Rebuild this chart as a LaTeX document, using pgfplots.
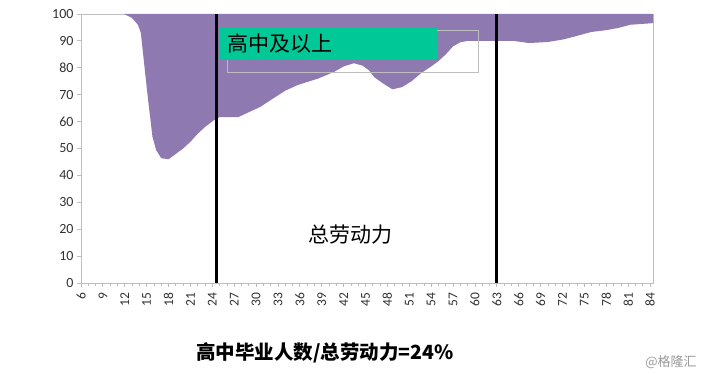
\documentclass[border=0pt]{standalone}
\usepackage{fontspec}
\setmainfont{Carlito}
\newfontfamily\cjk{Noto Sans CJK SC}
\usepackage{pgfplots}
\pgfplotsset{compat=1.18}
\definecolor{areapurple}{RGB}{142,122,176}
\definecolor{boxgreen}{RGB}{0,200,150}
\definecolor{axgray}{RGB}{190,190,190}
\definecolor{lblgray}{RGB}{50,50,50}
\begin{document}
\begin{tikzpicture}
\path[use as bounding box] (0pt,0pt) rectangle (705pt,374pt);
\begin{axis}[
  at={(81pt,91pt)}, anchor=south west,
  scale only axis, width=572pt, height=269pt,
  xmin=6, xmax=84.4, ymin=0, ymax=100,
  xtick={6,9,...,84}, ytick={0,10,...,100},
  minor x tick num=2,
  tick pos=left, tick align=outside,
  major tick length=4pt, minor tick length=3pt,
  tick style={axgray, line width=0.8pt},
  axis line style={axgray, line width=0.9pt},
  /pgf/number format/assume math mode=true,
  xticklabel style={rotate=90, anchor=east, xshift=-2pt, font=\fontsize{13.5}{13.5}\selectfont, text=lblgray},
  yticklabel style={font=\fontsize{14}{14}\selectfont, text=lblgray},
  clip=false,
]
\addplot[fill=areapurple, draw=none] coordinates {
(11.9,100) (13,98.5) (13.8,96) (14.2,93) (14.7,80.4) (15.2,68) (15.8,54.3) (16.3,49.4)
(17,46.4) (18,46) (19,48) (20,50) (21,52.5) (22,55.5) (23,58) (24.2,60.5)
(25,61.7) (27.6,61.7) (29,63.5) (30.6,65.5) (32,68) (34,71.5) (35.7,73.6)
(38.5,76) (40.7,78.5) (42,80.5) (43.4,81.7) (44.6,80.8) (45.5,79) (46.2,76.5)
(47.5,74) (48.7,72) (50,72.8) (51.3,75) (52.6,78) (54,80.5) (55,82.5)
(56,85) (57,88) (58,89.5) (59,90) (63,90) (65.3,90) (67.4,89.2) (70,89.6)
(72,90.5) (73.5,91.5) (75.9,93.3) (78,94) (79.6,94.8) (81.3,96) (84.4,96.6)
(84.4,100)
} -- cycle;
\addplot[black, line width=3pt] coordinates {(24.6,0) (24.6,100)};
\addplot[black, line width=3pt] coordinates {(63,0) (63,100)};
\end{axis}
% text box outline and green label
\draw[axgray, line width=0.6pt] (227pt,302pt) rectangle (478pt,344pt);
\fill[boxgreen] (220pt,314pt) rectangle (437pt,347pt);
\node[anchor=west, inner sep=0pt, font=\cjk\fontsize{21}{21}\selectfont] at (227pt,330pt) {高中及以上};
\node[anchor=center, inner sep=0pt, font=\cjk\fontsize{21}{21}\selectfont] at (350pt,139pt) {总劳动力};
\node[anchor=center, inner sep=0pt, font=\cjk\bfseries\fontsize{19.5}{19.5}\selectfont] at (325pt,21pt) {高中毕业人数/总劳动力=24\%};
\node[anchor=center, inner sep=0pt, text=gray!80, font=\cjk\fontsize{13}{13}\selectfont] at (671pt,12pt) {@格隆汇};
\end{tikzpicture}
\end{document}
